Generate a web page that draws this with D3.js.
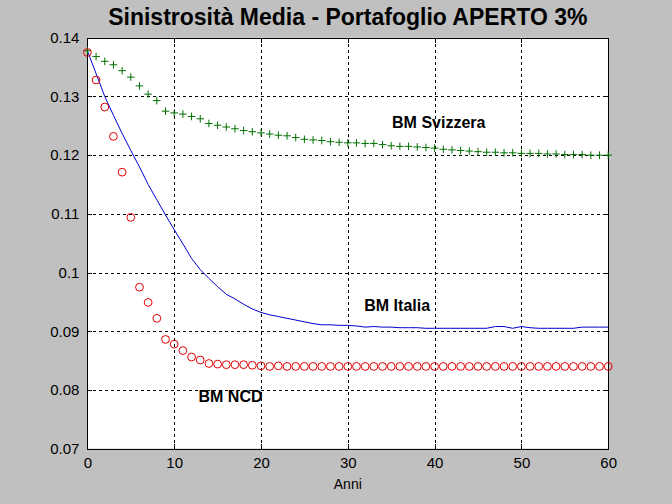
<!DOCTYPE html>
<html>
<head>
<meta charset="utf-8">
<script src="https://cdn.jsdelivr.net/npm/d3@7"></script>
<style>
  html, body { margin: 0; padding: 0; background: #c0c0c0; }
  svg { display: block; }
  text { font-family: Arial, "Liberation Sans", Helvetica, sans-serif; }
</style>
</head>
<body>
<svg id="chart" width="672" height="504"></svg>
<script>
// ---------- data ----------
const years = d3.range(0, 61);

const bmItalia = [
  0.1378, 0.1339, 0.1300, 0.1268, 0.1237, 0.1208, 0.1180, 0.1150, 0.1124, 0.1098,
  0.1073, 0.1049, 0.1024, 0.1005, 0.0990, 0.0976, 0.0963, 0.0955, 0.0946, 0.0938,
  0.0932, 0.0928, 0.0925, 0.0922, 0.0919, 0.0916, 0.0913, 0.0911, 0.0911, 0.0910,
  0.0910, 0.0909, 0.0907, 0.0908, 0.0907, 0.0907, 0.0906, 0.0906, 0.0906, 0.0905,
  0.0905, 0.0905, 0.0905, 0.0905, 0.0905, 0.0905, 0.0905, 0.0908, 0.0908, 0.0905,
  0.0908, 0.0906, 0.0905, 0.0905, 0.0905, 0.0905, 0.0905, 0.0907, 0.0907, 0.0907,
  0.0907
];

const bmSvizzera = [
  0.1378, 0.1368, 0.1360, 0.1354, 0.1344, 0.1333, 0.1318, 0.1304, 0.1293, 0.1275,
  0.1272, 0.1270, 0.1266, 0.1262, 0.1254, 0.1251, 0.1248, 0.1245, 0.1242, 0.1240,
  0.1238, 0.1236, 0.1234, 0.1233, 0.1230, 0.1227, 0.1226, 0.1225, 0.1223, 0.1222,
  0.1221, 0.1221, 0.1220, 0.1220, 0.1218, 0.1216, 0.1215, 0.1215, 0.1214, 0.1213,
  0.1212, 0.1210, 0.1209, 0.1208, 0.1207, 0.1206, 0.1205, 0.1205, 0.1204, 0.1204,
  0.1203, 0.1203, 0.1203, 0.1202, 0.1202, 0.1201, 0.1201, 0.1201, 0.1200, 0.1200,
  0.1200
];

const bmNCD = [
  0.1375, 0.1328, 0.1282, 0.1232, 0.1171, 0.1094, 0.0975, 0.0949, 0.0922, 0.0886,
  0.0878, 0.0867, 0.0856, 0.0851, 0.0845, 0.0844, 0.0843, 0.0843, 0.0843, 0.0842,
  0.0841, 0.0840, 0.0841, 0.0840, 0.0840, 0.0840, 0.0840, 0.0840, 0.0840, 0.0840,
  0.0840, 0.0840, 0.0840, 0.0840, 0.0840, 0.0840, 0.0840, 0.0840, 0.0840, 0.0840,
  0.0840, 0.0840, 0.0840, 0.0840, 0.0840, 0.0840, 0.0840, 0.0840, 0.0840, 0.0840,
  0.0840, 0.0840, 0.0840, 0.0840, 0.0840, 0.0840, 0.0840, 0.0840, 0.0840, 0.0840,
  0.0840
];

const xTicks = [0, 10, 20, 30, 40, 50, 60];
const yTicks = [0.07, 0.08, 0.09, 0.10, 0.11, 0.12, 0.13, 0.14];
const yTickLabels = ["0.07", "0.08", "0.09", "0.1", "0.11", "0.12", "0.13", "0.14"];

const titleText = "Sinistrosità Media - Portafoglio APERTO 3%";
const xLabelText = "Anni";
const labels = [
  { text: "BM Svizzera", x: 35.1, y: 0.1256 },
  { text: "BM Italia",   x: 31.9, y: 0.0943 },
  { text: "BM NCD",      x: 12.8, y: 0.0788 }
];

// ---------- layout ----------
const W = 672, H = 504;
const plot = { left: 87.4, right: 608.2, top: 37.8, bottom: 448.6 };

const svg = d3.select("#chart");
svg.append("rect").attr("width", W).attr("height", H).attr("fill", "#c0c0c0");

const x = d3.scaleLinear().domain([0, 60]).range([plot.left, plot.right]);
const y = d3.scaleLinear().domain([0.07, 0.14]).range([plot.bottom, plot.top]);

// plot background
svg.append("rect")
  .attr("x", plot.left).attr("y", plot.top)
  .attr("width", plot.right - plot.left).attr("height", plot.bottom - plot.top)
  .attr("fill", "#ffffff");

// grid
const grid = svg.append("g").attr("stroke", "#000").attr("stroke-width", 1)
  .attr("stroke-dasharray", "3,3").attr("shape-rendering", "crispEdges");
grid.selectAll("line.gx").data(xTicks.slice(1, -1)).join("line")
  .attr("x1", d => Math.round(x(d)) + 0.5).attr("x2", d => Math.round(x(d)) + 0.5)
  .attr("y1", plot.top).attr("y2", plot.bottom);
grid.selectAll("line.gy").data(yTicks.slice(1, -1)).join("line")
  .attr("y1", d => Math.round(y(d)) + 0.5).attr("y2", d => Math.round(y(d)) + 0.5)
  .attr("x1", plot.left).attr("x2", plot.right);

// axes
const xAxis = d3.axisBottom(x).tickValues(xTicks).tickSizeInner(-5).tickSizeOuter(0)
  .tickPadding(9).tickFormat(d3.format("d"));
const yAxis = d3.axisLeft(y).tickValues(yTicks).tickSizeInner(-5).tickSizeOuter(0)
  .tickPadding(8).tickFormat((d, i) => yTickLabels[i]);
const xAxisTop = d3.axisTop(x).tickValues(xTicks).tickSizeInner(-5).tickSizeOuter(0).tickFormat("");
const yAxisRight = d3.axisRight(y).tickValues(yTicks).tickSizeInner(-5).tickSizeOuter(0).tickFormat("");

function styleAxis(g) {
  g.select(".domain").remove();
  g.selectAll("line").attr("stroke", "#000").attr("shape-rendering", "crispEdges");
  g.selectAll("text").attr("fill", "#000").style("font-size", "15px")
    .style("font-family", "Arial, 'Liberation Sans', sans-serif");
}
svg.append("g").attr("transform", `translate(0,${plot.bottom})`).call(xAxis).call(styleAxis);
svg.append("g").attr("transform", `translate(${plot.left},0)`).call(yAxis).call(styleAxis);
svg.append("g").attr("transform", `translate(0,${plot.top})`).call(xAxisTop).call(styleAxis);
svg.append("g").attr("transform", `translate(${plot.right},0)`).call(yAxisRight).call(styleAxis);

// box
svg.append("rect")
  .attr("x", Math.round(plot.left) + 0.5).attr("y", Math.round(plot.top) + 0.5)
  .attr("width", Math.round(plot.right) - Math.round(plot.left))
  .attr("height", Math.round(plot.bottom) - Math.round(plot.top))
  .attr("fill", "none").attr("stroke", "#000").attr("stroke-width", 1)
  .attr("shape-rendering", "crispEdges");

// BM Italia line
const line = d3.line().x((d, i) => x(years[i])).y(d => y(d));
svg.append("path").datum(bmItalia)
  .attr("d", line).attr("fill", "none")
  .attr("stroke", "#0000d0").attr("stroke-width", 1);

// BM Svizzera plus markers
const plusSize = 3.8;
svg.append("g").selectAll("path").data(bmSvizzera).join("path")
  .attr("d", (d, i) => {
    const cx = x(years[i]), cy = y(d);
    return `M${cx - plusSize},${cy}H${cx + plusSize}M${cx},${cy - plusSize}V${cy + plusSize}`;
  })
  .attr("stroke", "#007000").attr("stroke-width", 1).attr("fill", "none");

// BM NCD circle markers
svg.append("g").selectAll("circle").data(bmNCD).join("circle")
  .attr("cx", (d, i) => x(years[i])).attr("cy", d => y(d)).attr("r", 3.9)
  .attr("fill", "none").attr("stroke", "#e00000").attr("stroke-width", 1);

// series labels
svg.append("g").selectAll("text").data(labels).join("text")
  .attr("x", d => x(d.x)).attr("y", d => y(d.y))
  .attr("dominant-baseline", "central")
  .style("font-size", "16px").style("font-weight", "bold").attr("fill", "#000")
  .text(d => d.text);

// title
svg.append("text")
  .attr("x", (plot.left + plot.right) / 2).attr("y", 17)
  .attr("text-anchor", "middle").attr("dominant-baseline", "central")
  .style("font-size", "23px").style("font-weight", "bold").attr("fill", "#000")
  .text(titleText);

// x label
svg.append("text")
  .attr("x", (plot.left + plot.right) / 2).attr("y", 484)
  .attr("text-anchor", "middle").attr("dominant-baseline", "central")
  .style("font-size", "14px").attr("fill", "#000")
  .text(xLabelText);
</script>
</body>
</html>
